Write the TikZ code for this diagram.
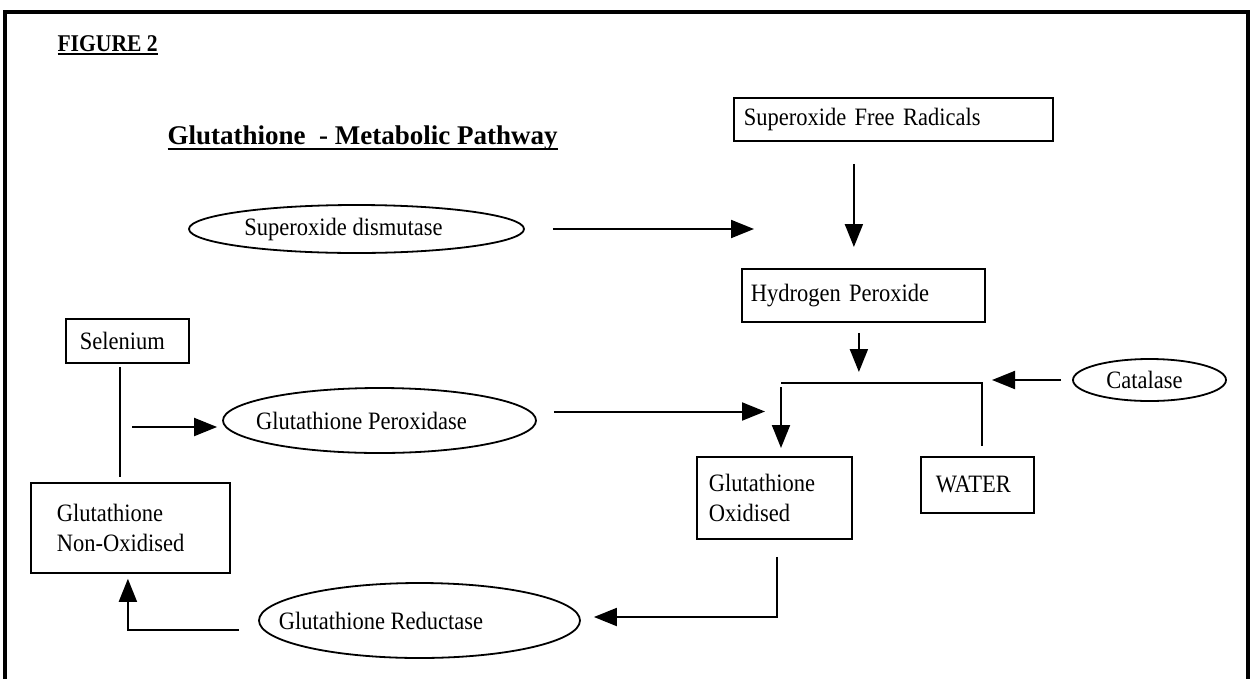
\documentclass[tikz,border=0pt]{standalone}
\usepackage{fontspec}
\setmainfont{Liberation Serif}[FakeStretch=0.9]
\newfontfamily\headfont{Liberation Serif}
\usetikzlibrary{shapes.geometric,arrows.meta,calc}

\newcommand\bodyfont{\fontsize{25}{30}\selectfont}
\newcommand\undertext[2]{\setbox0=\hbox{#2}\rlap{\rule[#1]{\wd0}{2pt}}\box0}

\tikzset{
    pbox/.style={draw, rectangle, line width=1.8pt, anchor=north west, align=left, inner ysep=0pt},
    enz/.style={draw, ellipse, line width=1.8pt, inner sep=0pt},
    arr/.style={line width=2pt, -{Triangle[length=23pt,width=18pt]}},
    link/.style={line width=2pt},
}

\begin{document}
\begin{tikzpicture}[x=1pt, y=-1pt, font=\bodyfont]
    \useasboundingbox (0,0) rectangle (1253,678);
    % frame
    \draw[line width=4.5pt] (5,690) -- (5,12) -- (1248,12) -- (1248,690);
    % headings
    \node[anchor=base west, font=\fontsize{24}{28}\selectfont\bfseries] (fig) at (54,51) {\undertext{-3.5pt}{FIGURE 2}};
    \node[anchor=base west, font=\headfont\fontsize{27}{32}\selectfont\bfseries] (title) at (164,144) {\undertext{-6pt}{Glutathione\ \ - Metabolic Pathway}};
    % substances
    \node[pbox, minimum width=319pt, minimum height=43pt, inner xsep=10pt, text width=299pt] (sfr) at (733,97) {Superoxide Free Radicals};
    \node[pbox, minimum width=243pt, minimum height=53pt, inner xsep=9pt, text width=225pt] (hp) at (741,268) {Hydrogen Peroxide};
    \node[pbox, minimum width=123pt, minimum height=44pt, inner xsep=14pt, text width=95pt] (sel) at (65,318) {Selenium};
    \node[pbox, minimum width=199pt, minimum height=90pt, inner xsep=26pt, text width=147pt] (gno) at (30,482) {Glutathione\\Non-Oxidised};
    \node[pbox, minimum width=155pt, minimum height=82pt, inner xsep=12pt, text width=131pt] (gox) at (696,456) {Glutathione\\Oxidised};
    \node[pbox, minimum width=113pt, minimum height=56pt, inner xsep=15pt, text width=83pt] (water) at (920,456) {WATER};
    % enzymes
    \node[enz, minimum width=335pt, minimum height=48pt, label={[xshift=-13pt]center:Superoxide dismutase}] (sod) at (356.5,229) {};
    \node[enz, minimum width=313pt, minimum height=65pt, label={[xshift=-18pt]center:Glutathione Peroxidase}] (gpx) at (379.5,420.5) {};
    \node[enz, minimum width=321pt, minimum height=75pt, label={[xshift=-38.5pt]center:Glutathione Reductase}] (gr) at (419.5,620.5) {};
    \node[enz, minimum width=153pt, minimum height=42pt, label={[xshift=-5pt]center:Catalase}] (cat) at (1149.5,380) {};

    \coordinate (sodtip) at (754,229);
    \coordinate (jl) at (781,383);
    \coordinate (jr) at (982,383);
    \coordinate (se) at (132,427);

    \draw[arr, shorten <=22pt, shorten >=21pt] ([xshift=-39.5pt]sfr.south) -- ([xshift=-39.5pt]sfr.south |- hp.north);
    \draw[arr, shorten <=28pt] (sod.east) -- (sodtip);
    \draw[arr, shorten <=10pt, shorten >=11pt] ([xshift=-4.5pt]hp.south) -- ([xshift=-4.5pt]hp.south |- jl);
    \draw[link, shorten >=10pt] (jl) -- (jr) -- (jr |- water.north);
    \draw[arr, shorten <=4pt, shorten >=8pt] (jl) -- (jl |- gox.north);
    \draw[arr, shorten <=11pt, shorten >=10pt] (cat.west) -- (cat.west -| jr);
    \draw[arr, shorten <=17pt, shorten >=16pt] ([yshift=9pt]gpx.east) -- ([yshift=9pt]gpx.east -| jl);
    \draw[link, shorten <=3pt, shorten >=5pt] ([xshift=-7.5pt]sel.south) -- ([xshift=-7.5pt]sel.south |- gno.north);
    \draw[arr, shorten >=5pt] (se) -- (se -| gpx.west);
    \draw[arr, shorten <=17pt, shorten >=13pt] ([xshift=2.5pt]gox.south) |- ([yshift=3.5pt]gr.east);
    \draw[arr, shorten <=19pt, shorten >=5pt] ([yshift=-9.5pt]gr.west) -| ([xshift=-2.5pt]gno.south);
\end{tikzpicture}
\end{document}
